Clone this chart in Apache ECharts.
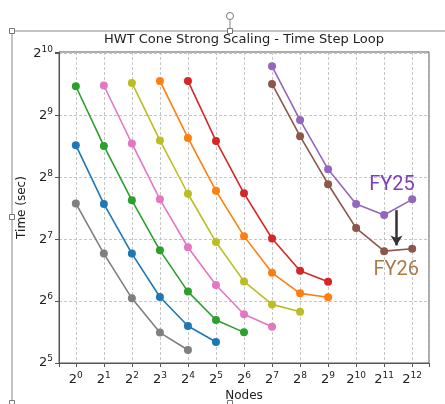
<!DOCTYPE html>
<html>
<head>
<meta charset="utf-8">
<script src="https://cdn.jsdelivr.net/npm/echarts@6/dist/echarts.min.js"></script>
<style>
  html, body { margin: 0; padding: 0; background: #fff; }
  #chart { width: 445px; height: 404px; }
</style>
</head>
<body>
<div id="chart"></div>
<script>
// node counts and time (sec) per run
const nodesGray   = [1, 2, 4, 8, 16]
const timeGray    = [191, 109, 66, 45, 37]
const nodesBlue   = [1, 2, 4, 8, 16, 32]
const timeBlue    = [367, 190, 109, 67, 48.4, 40.5]
const nodesGreen  = [1, 2, 4, 8, 16, 32, 64]
const timeGreen   = [710, 364, 198, 113, 71.2, 51.8, 45.1]
const nodesPink   = [2, 4, 8, 16, 32, 64, 128]
const timePink    = [716, 374, 200, 117, 76.6, 55.2, 48]
const nodesOlive  = [4, 8, 16, 32, 64, 128, 256]
const timeOlive   = [737, 387, 213, 124, 79.8, 61.7, 56.8]
const nodesOrange = [8, 16, 32, 64, 128, 256, 512]
const timeOrange  = [754, 398, 220, 132.5, 87.9, 69.8, 66.8]
const nodesRed    = [16, 32, 64, 128, 256, 512]
const timeRed     = [754, 385, 214, 129, 89.9, 79.5]
const nodesFY     = [128, 256, 512, 1024, 2048, 4096]
const timeFY25    = [888, 486, 280, 190, 168, 200]
const timeFY26    = [729, 406, 237, 145, 112, 115]

// axis extents (log2 units) and annotation anchors (log2 nodes, log2 sec)
const xExtent = [-0.6, 12.6]
const yExtent = [5, 10.025]
const fy25Label = [11.28, 7.87]
const fy26Label = [11.43, 6.5]
const arrowFrom = [11.44, 7.47]
const arrowTo   = [11.44, 6.9]

const ink = '#222'
const spine = '#555'

function pts(nodes, t) {
  return nodes.map((n, i) => [Math.log2(n), Math.log2(t[i])])
}

function line(name, nodes, t, color, extra) {
  return Object.assign({
    name,
    type: 'line',
    data: pts(nodes, t),
    symbol: 'circle',
    symbolSize: 8,
    lineStyle: { width: 1.6, color },
    itemStyle: { color },
    emphasis: { disabled: true },
    animation: false
  }, extra || {})
}

function powLabel(v) {
  return Number.isInteger(v) ? '{b|2}{s|' + v + '}' : ''
}

const richPow = {
  b: { fontSize: 13, fontFamily: 'DejaVu Sans', color: ink },
  s: { fontSize: 9, fontFamily: 'DejaVu Sans', color: ink, padding: [0, 0, 8, 0] }
}

const gridLine = { show: true, lineStyle: { color: '#b8b8b8', type: [3, 2], width: 0.8 } }

const chart = echarts.init(document.getElementById('chart'), null, { renderer: 'canvas' })

chart.setOption({
  animation: false,
  title: {
    text: 'HWT Cone Strong Scaling - Time Step Loop',
    left: 244, top: 33, padding: 0, textAlign: 'center',
    textStyle: { fontFamily: 'DejaVu Sans', fontSize: 13, fontWeight: 'normal', color: ink }
  },
  grid: {
    left: 59, right: 16, top: 52, bottom: 41,
    outerBoundsMode: 'none', containLabel: false,
    show: true, borderColor: spine, borderWidth: 1
  },
  xAxis: {
    type: 'value',
    min: xExtent[0], max: xExtent[1],
    minInterval: 1, maxInterval: 1,
    name: 'Nodes', nameLocation: 'middle', nameGap: 27, nameMoveOverlap: false,
    nameTextStyle: { fontFamily: 'DejaVu Sans', fontSize: 12, color: ink },
    axisLine: { show: true, onZero: false, lineStyle: { color: spine } },
    axisTick: { show: true, length: 4, lineStyle: { color: spine } },
    axisLabel: { formatter: powLabel, rich: richPow, margin: 8 },
    splitLine: gridLine
  },
  yAxis: {
    type: 'value',
    min: yExtent[0], max: yExtent[1],
    minInterval: 1, maxInterval: 1,
    name: 'Time (sec)', nameLocation: 'middle', nameGap: 31, nameRotate: 90, nameMoveOverlap: false,
    nameTextStyle: { fontFamily: 'DejaVu Sans', fontSize: 12, color: ink },
    axisLine: { show: true, onZero: false, lineStyle: { color: spine } },
    axisTick: { show: true, length: 4, lineStyle: { color: spine } },
    axisLabel: { formatter: powLabel, rich: richPow, margin: 6 },
    splitLine: gridLine
  },
  series: [
    line('gray', nodesGray, timeGray, '#7f7f7f'),
    line('blue', nodesBlue, timeBlue, '#1f77b4'),
    line('green', nodesGreen, timeGreen, '#2ca02c'),
    line('pink', nodesPink, timePink, '#e377c2'),
    line('olive', nodesOlive, timeOlive, '#bcbd22'),
    line('orange', nodesOrange, timeOrange, '#ff7f0e'),
    line('red', nodesRed, timeRed, '#d62728'),
    line('FY25', nodesFY, timeFY25, '#9467bd', {
      markPoint: {
        silent: true, symbol: 'circle', symbolSize: 0,
        label: { show: true, position: 'inside', formatter: 'FY25', color: '#7b3fbe', fontSize: 20, fontFamily: 'Roboto' },
        data: [{ coord: fy25Label }]
      }
    }),
    line('FY26', nodesFY, timeFY26, '#8c564b', {
      markPoint: {
        silent: true, symbol: 'circle', symbolSize: 0,
        label: { show: true, position: 'inside', formatter: 'FY26', color: '#a87c4f', fontSize: 20, fontFamily: 'Roboto' },
        data: [{ coord: fy26Label }]
      },
      markLine: {
        silent: true, symbol: ['none', 'arrow'], symbolSize: [9, 10],
        label: { show: false },
        lineStyle: { color: '#333', width: 2.5, type: 'solid' },
        data: [[{ coord: arrowFrom }, { coord: arrowTo }]]
      }
    })
  ],
  // selection frame from the screenshot the chart was cut from
  graphic: [
    { type: 'line', shape: { x1: 12, y1: 31, x2: 445, y2: 31 }, style: { stroke: '#888', lineWidth: 1 }, silent: true },
    { type: 'line', shape: { x1: 12, y1: 31, x2: 12, y2: 404 }, style: { stroke: '#888', lineWidth: 1 }, silent: true },
    { type: 'line', shape: { x1: 230, y1: 20, x2: 230, y2: 31 }, style: { stroke: '#888', lineWidth: 1 }, silent: true },
    { type: 'circle', shape: { cx: 230, cy: 16, r: 3.5 }, style: { fill: '#fff', stroke: '#777', lineWidth: 1 }, silent: true },
    { type: 'rect', shape: { x: 9.5, y: 28.5, width: 5, height: 5 }, style: { fill: '#fff', stroke: '#777', lineWidth: 1 }, silent: true },
    { type: 'rect', shape: { x: 227.5, y: 28.5, width: 5, height: 5 }, style: { fill: '#fff', stroke: '#777', lineWidth: 1 }, silent: true },
    { type: 'rect', shape: { x: 9.5, y: 214.5, width: 5, height: 5 }, style: { fill: '#fff', stroke: '#777', lineWidth: 1 }, silent: true },
    { type: 'rect', shape: { x: 9.5, y: 400.5, width: 5, height: 5 }, style: { fill: '#fff', stroke: '#777', lineWidth: 1 }, silent: true },
    { type: 'rect', shape: { x: 227.5, y: 400.5, width: 5, height: 5 }, style: { fill: '#fff', stroke: '#777', lineWidth: 1 }, silent: true }
  ]
})
</script>
</body>
</html>
